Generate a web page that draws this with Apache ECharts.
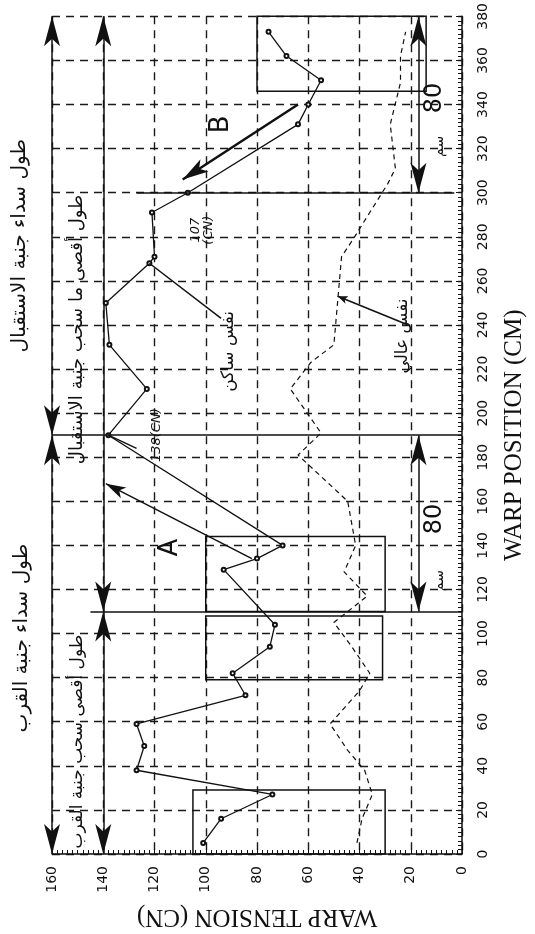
<!DOCTYPE html>
<html>
<head>
<meta charset="utf-8">
<script src="https://cdn.jsdelivr.net/npm/echarts@6/dist/echarts.min.js"></script>
<style>
html, body { margin: 0; padding: 0; background: #fff; }
#chart { width: 535px; height: 934px; }
</style>
</head>
<body>
<div id="chart"></div>
<script>
// solid curve (warp tension against position)
var solidPos = [5, 16, 27, 38, 49, 59, 72, 82, 94, 104, 129, 134, 140, 190, 211, 231, 250, 268, 271, 291, 300, 331, 340, 351, 362, 373];
var solidTen = [101, 94, 74, 127, 124, 127, 84.5, 89.5, 75, 73, 93, 80, 70, 138, 123, 137.6, 139, 122, 120, 121, 107, 64, 60, 55, 68.5, 75.5];

// dashed curve
var dashPos = [5, 16, 27, 38, 47, 59, 74, 82, 94, 105, 117, 128, 140, 160, 181, 191, 211, 223, 231, 251, 271, 278, 291, 304, 311, 331, 350, 362, 373];
var dashTen = [41, 39, 35, 38, 44.6, 51.5, 40, 36, 43, 50, 37, 46, 41.5, 44.6, 64, 55, 67, 59, 50, 48.5, 47, 43, 36, 29, 26, 28, 24, 24, 22];

// boxes: [tension min, tension max, position min, position max]
var boxes = [[30, 105, 0, 29], [31, 100, 79, 108], [30, 100, 110, 144], [14, 80, 346, 380]];

// full-width solid lines: [tension from, tension to, position]
var cutLines = [[145, 0, 110], [160, 0, 190], [127, 3, 300]];

// double-headed length arrows: [tension, position from, position to]
var spanArrows = [[160, 0, 190], [160, 190, 380], [140, 0, 110], [140, 110, 380], [17, 110, 190], [17, 300, 380]];

// annotations: [tension, position, text, size, style]
var notes = [
    [114, 139, 'A', 26, 'normal'],
    [94, 331, 'B', 26, 'normal'],
    [10.5, 152, '80', 24, 'normal'],
    [10.5, 343, '80', 24, 'normal'],
    [9, 124, 'سم', 14, 'normal'],
    [9, 321, 'سم', 14, 'normal'],
    [119, 190, '138(CN)', 13, 'italic'],
    [101.5, 283, '107\n(CN)', 13, 'italic'],
    [172.5, 276, 'طول سداء جنبة الاستقبال', 20, 'normal'],
    [150, 238, 'طول أقصى ما سحب جنبة الاستقبال', 18, 'normal'],
    [171.7, 98, 'طول سداء جنبة القرب', 20, 'normal'],
    [150, 51, 'طول أقصى سحب جنبة القرب', 17, 'normal'],
    [91, 228, 'نفس ساكن', 17, 'normal'],
    [23, 235, 'نفس عالي', 17, 'normal']
];

var ink = '#111';

var lineData = [];
cutLines.forEach(function(c) {
    lineData.push([{coord: [c[0], c[2]]}, {coord: [c[1], c[2]]}]);
});
spanArrows.forEach(function(a) {
    lineData.push([
        {coord: [a[0], a[1]], symbol: 'arrow', symbolSize: [12, 30]},
        {coord: [a[0], a[2]], symbol: 'arrow', symbolSize: [12, 30]}
    ]);
});
// arrow A, arrow B and pointers
lineData.push([{coord: [82, 134], lineStyle: {curveness: -0.05}}, {coord: [139, 168], symbol: 'arrow', symbolSize: [9, 20]}]);
lineData.push([{coord: [64, 340], lineStyle: {width: 2.5}}, {coord: [109, 306], symbol: 'arrow', symbolSize: [11, 26]}]);
lineData.push([{coord: [122, 268]}, {coord: [94, 243]}]);
lineData.push([{coord: [21, 240]}, {coord: [48.5, 253], symbol: 'arrow', symbolSize: [6, 10]}]);
lineData.push([{coord: [138, 190]}, {coord: [127, 184]}]);

var areaData = boxes.map(function(b) {
    return [{coord: [b[1], b[3]]}, {coord: [b[0], b[2]]}];
});

var chart = echarts.init(document.getElementById('chart'));
var option = {
    backgroundColor: '#fff',
    animation: false,
    grid: {left: 52, right: 70, top: 14, bottom: 76},
    xAxis: {
        type: 'value',
        min: 0,
        max: 160,
        interval: 20,
        inverse: true,
        position: 'bottom',
        axisLine: {onZero: false, lineStyle: {color: ink, width: 1.5}},
        axisTick: {inside: true, length: 6, lineStyle: {color: ink}},
        minorTick: {show: true, splitNumber: 10, length: 4, lineStyle: {color: ink}},
        splitLine: {lineStyle: {type: [8, 6], color: '#1a1a1a', width: 1.4}},
        axisLabel: {rotate: 90, fontSize: 14, fontFamily: 'DejaVu Sans', color: ink, margin: 12},
        name: 'WARP TENSION (CN)',
        nameLocation: 'middle',
        nameRotate: 180,
        nameGap: 50,
        nameTextStyle: {fontSize: 25, fontFamily: 'Liberation Serif', color: ink}
    },
    yAxis: {
        type: 'value',
        min: 0,
        max: 380,
        interval: 20,
        position: 'right',
        axisLine: {show: true, onZero: false, lineStyle: {color: ink, width: 1.5}},
        axisTick: {show: true, inside: true, length: 6, lineStyle: {color: ink}},
        minorTick: {show: true, splitNumber: 10, length: 4, lineStyle: {color: ink}},
        splitLine: {lineStyle: {type: [8, 6], color: '#1a1a1a', width: 1.4}},
        axisLabel: {rotate: 90, fontSize: 14, fontFamily: 'DejaVu Sans', color: ink, margin: 14},
        name: 'WARP POSITION (CM)',
        nameLocation: 'middle',
        nameRotate: 90,
        nameGap: 40,
        nameTextStyle: {fontSize: 25, fontFamily: 'Liberation Serif', color: ink}
    },
    series: [
        {
            type: 'line',
            data: solidPos.map(function(p, i) { return [solidTen[i], p]; }),
            symbol: 'emptyCircle',
            symbolSize: 4,
            itemStyle: {color: ink},
            lineStyle: {color: ink, width: 1.3},
            markArea: {
                silent: true,
                itemStyle: {color: 'rgba(0,0,0,0)', borderColor: ink, borderWidth: 1.5},
                data: areaData
            },
            markLine: {
                silent: true,
                symbol: ['none', 'none'],
                label: {show: false},
                lineStyle: {color: ink, type: 'solid', width: 1.5},
                data: lineData
            }
        },
        {
            type: 'line',
            data: dashPos.map(function(p, i) { return [dashTen[i], p]; }),
            symbol: 'none',
            lineStyle: {color: ink, width: 1.2, type: [5, 4]}
        }
    ]
};
chart.setOption(option);

// rotated annotation texts, placed through the axes
chart.setOption({
    graphic: notes.map(function(n) {
        var pt = chart.convertToPixel({gridIndex: 0}, [n[0], n[1]]);
        return {
            type: 'text',
            x: pt[0],
            y: pt[1],
            rotation: Math.PI / 2,
            style: {
                text: n[2],
                fontSize: n[3],
                fontFamily: 'DejaVu Sans',
                fontStyle: n[4],
                fill: ink,
                align: 'center',
                verticalAlign: 'middle'
            }
        };
    })
});
</script>
</body>
</html>
